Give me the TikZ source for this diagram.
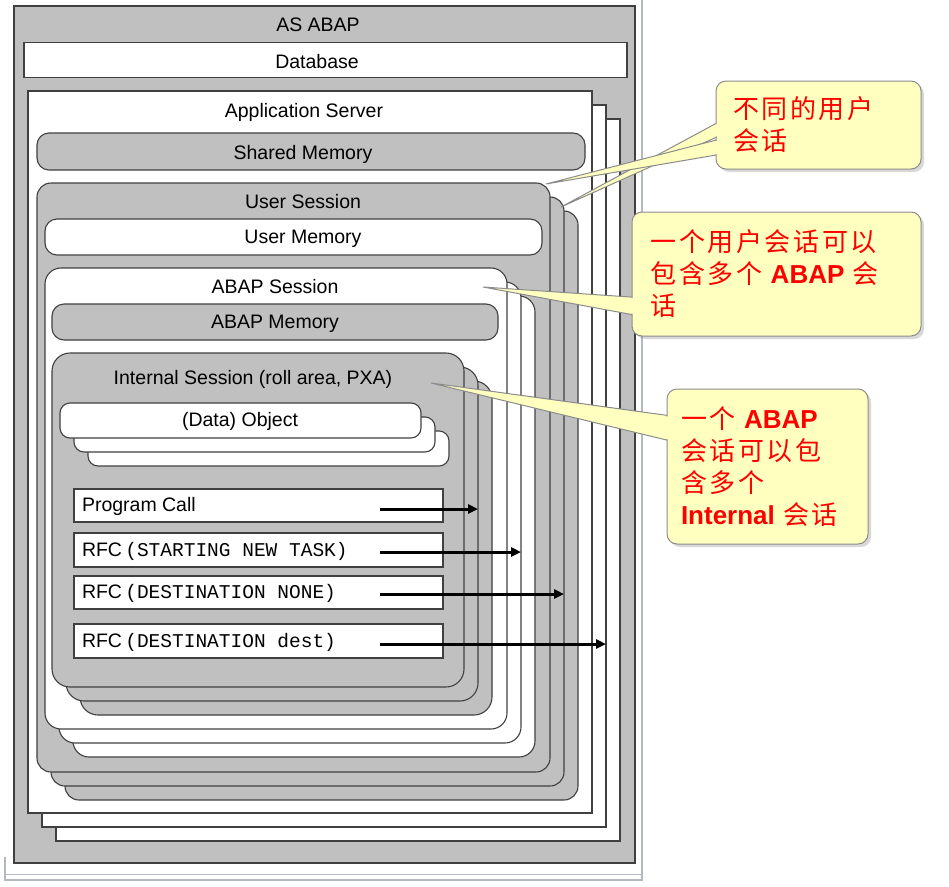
\documentclass[tikz,border=0pt]{standalone}
\usepackage{fontspec}
\setmainfont{Liberation Sans}
\setmonofont{Liberation Mono}
\newfontfamily\cjk[LetterSpace=10]{Noto Sans CJK SC}
\newfontfamily\lat{Liberation Sans}
\usetikzlibrary{arrows.meta,shadows}

\definecolor{boxgray}{HTML}{C0C0C0}
\definecolor{edge}{HTML}{404040}
\definecolor{noteyellow}{HTML}{FFFFC0}
\definecolor{notegray}{HTML}{8C8C8C}
\definecolor{framegray}{HTML}{B4B8C0}
\definecolor{notered}{HTML}{FF0000}

\begin{document}
\begin{tikzpicture}
    [x=1pt, y=-1pt, every node/.style={inner sep=0pt, outer sep=0pt},
     gbox/.style={draw=edge, fill=boxgray, line width=1.1pt},
     wbox/.style={gbox, fill=white},
     title/.style={font=\fontsize{19.5}{23}\selectfont, yshift=-2pt},
     call/.style={line width=3pt, -{Triangle[length=10pt,width=9pt]}},
     note/.style={draw=notegray, fill=noteyellow, line width=1pt, rounded corners=10pt,
       drop shadow={shadow xshift=3pt, shadow yshift=-3pt, opacity=.3}},
     wedge/.style={draw=notegray, fill=noteyellow, line width=1pt},
     say/.style={anchor=north west, align=left, text=notered,
       font=\cjk\fontsize{26}{32}\selectfont}]
    \fill[white] (0,0) rectangle (949,886);
    \useasboundingbox (0,0) rectangle (949,886);
    \draw[framegray, line width=.8pt] (5,874) -- (641,874);
    \draw[framegray, line width=1.2pt] (5,857) -- (5,880) -- (642,880) -- (642,0);

    % AS ABAP
    \node[gbox, minimum width=621pt, minimum height=857pt] (abap) at (324.5,434.5) {};
    \node[title] (tabap) at (318,23) {AS ABAP};
    \node[wbox, minimum width=603pt, minimum height=35pt] (db) at (325.5,60) {};
    \node[title] (tdb) at (317,60) {Database};

    % application server
    \foreach \k in {2,1,0}
      \node[wbox, minimum width=564pt, minimum height=722pt] (as\k) at (310+14*\k,452+14*\k) {};
    \node[title] (tas) at (304,110) {Application Server};
    \node[gbox, rounded corners=12pt, minimum width=548pt, minimum height=37pt] (shm) at (311,151.5) {};
    \node[title] (tshm) at (303,152) {Shared Memory};

    % user session
    \foreach \k in {2,1,0}
      \node[gbox, rounded corners=14pt, minimum width=513pt, minimum height=589pt] (us\k) at (293.5+14*\k,477.5+14*\k) {};
    \node[title] (tus) at (303,200) {User Session};
    \node[wbox, rounded corners=12pt, minimum width=497pt, minimum height=36pt] (um) at (293.5,237) {};
    \node[title] (tum) at (303,237) {User Memory};

    % ABAP session
    \foreach \k in {2,1,0}
      \node[wbox, rounded corners=16pt, minimum width=462pt, minimum height=461pt] (ss\k) at (276+14*\k,498.5+14*\k) {};
    \node[title] (tss) at (275,285) {ABAP Session};
    \node[gbox, rounded corners=12pt, minimum width=446pt, minimum height=36pt] (sm) at (275,322) {};
    \node[title] (tsm) at (275,322) {ABAP Memory};

    % internal session
    \foreach \k in {2,1,0}
      \node[gbox, rounded corners=18pt, minimum width=412pt, minimum height=334pt] (is\k) at (258+14*\k,520+14*\k) {};
    \node[title] (tis) at (253,377) {Internal Session (roll area, PXA)};
    \foreach \k in {2,1,0}
      \node[wbox, rounded corners=10pt, minimum width=361pt, minimum height=35pt] (do\k) at (240.5+14*\k,420.5+14*\k) {};
    \node[title] (tdo) at (240,419) {(Data) Object};

    % calls
    \foreach \n/\y/\h/\a/\e/\t in {
        pc/505.5/33/509/is1/Program Call,
        rs/550/34/552/ss1/RFC\,{\ttfamily(STARTING NEW TASK)},
        rd/592.5/33/594/us1/RFC\,{\ttfamily(DESTINATION NONE)},
        rx/641/34/644/as1/RFC\,{\ttfamily(DESTINATION dest)}}
    {
      \node[wbox, minimum width=369pt, minimum height=\h pt] (\n) at (258.5,\y) {};
      \node[title, anchor=west] (t\n) at (82,\y-1) {\t};
      \coordinate (s\n) at (380,\a);
      \draw[call] (s\n) -- (s\n -| \e.east);
    }

    % callouts
    \coordinate (pa) at (561,207);
    \coordinate (pb) at (546,184);
    \coordinate (pc2) at (483,287);
    \coordinate (pd) at (431,383);
    \draw[wedge] (pa) -- (728,117) -- (728,132) -- cycle;
    \draw[wedge] (pb) -- (728,137) -- (728,153) -- cycle;
    \draw[wedge] (pc2) -- (645,298) -- (645,317) -- cycle;
    \draw[wedge] (pd) -- (679,417) -- (679,443) -- cycle;
    \node[note, minimum width=205pt, minimum height=88pt] (n1) at (818.5,125) {};
    \node[note, minimum width=289pt, minimum height=124pt] (n2) at (776.5,274) {};
    \node[note, minimum width=201pt, minimum height=155pt] (n3) at (767.5,466.5) {};
    \begin{scope}
      \clip (710,100) rectangle (724,170);
      \fill[noteyellow] (pa) -- (728,118.2) -- (728,130.8) -- cycle;
      \fill[noteyellow] (pb) -- (728,138.2) -- (728,151.8) -- cycle;
    \end{scope}
    \begin{scope}
      \clip (626,280) rectangle (640,330);
      \fill[noteyellow] (pc2) -- (645,299.2) -- (645,315.8) -- cycle;
    \end{scope}
    \begin{scope}
      \clip (661,400) rectangle (675,460);
      \fill[noteyellow] (pd) -- (679,418.2) -- (679,441.8) -- cycle;
    \end{scope}
    \node[say] (q1) at (733,97) {不同的用户\\会话};
    \node[say] (q2) at (650.5,230) {一个用户会话可以\\包含多个 {\lat\bfseries ABAP} 会\\话};
    \node[say] (q3) at (681,407) {一个 {\lat\bfseries ABAP}\\会话可以包\\含多个\\{\lat\bfseries Internal} 会话};
\end{tikzpicture}
\end{document}
